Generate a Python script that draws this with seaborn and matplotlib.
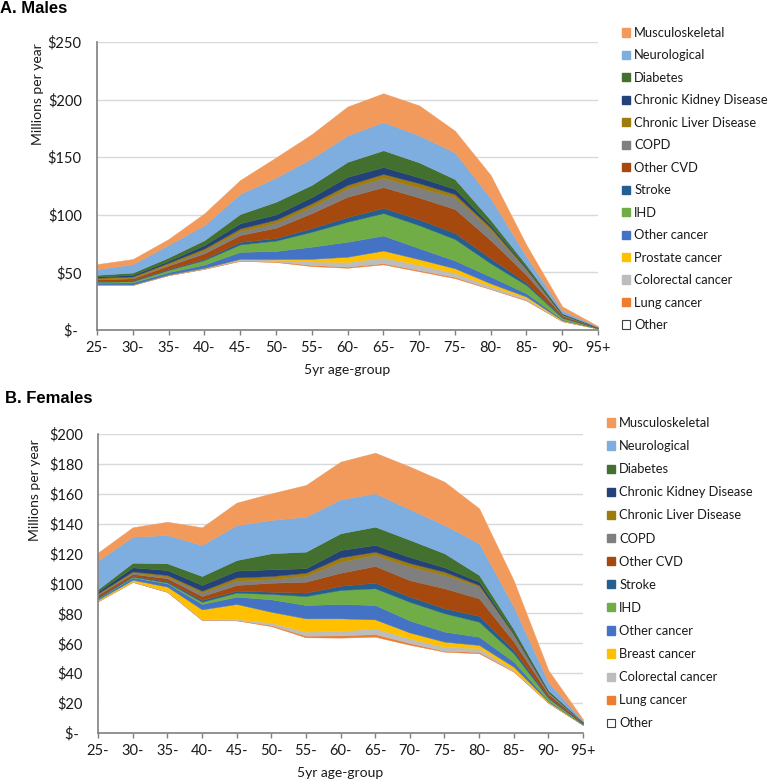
import numpy as np
import matplotlib
matplotlib.use('Agg')
import matplotlib.pyplot as plt
from matplotlib.patches import Patch
import seaborn as sns

sns.set_theme(style='white')
plt.rcParams['font.family'] = ['Lato', 'DejaVu Sans']

# 年龄组
ages = ['25-', '30-', '35-', '40-', '45-', '50-', '55-', '60-', '65-',
        '70-', '75-', '80-', '85-', '90-', '95+']

# 男性 (百万/年), 从下往上堆叠
male_other = [39, 39, 47.5, 53, 60, 59, 55.5, 54, 57, 51, 45, 35.5, 25.5, 7.5, 1.2]
male_lung = [0.3, 0.3, 0.3, 0.4, 0.4, 0.6, 1, 1, 1, 1, 1, 0.5, 0.5, 0.2, 0.05]
male_colorectal = [0.3, 0.3, 0.4, 0.6, 1.2, 1.5, 3, 4, 5, 4.5, 3.6, 2, 1.5, 0.3, 0.05]
male_prostate = [0, 0, 0, 0, 0.2, 0.5, 2.3, 4.6, 6, 5, 4, 2.5, 1.5, 0.5, 0.1]
male_other_cancer = [1.5, 1.8, 2, 2.8, 6, 7, 10.5, 13, 13, 9.5, 6.7, 5.8, 2.8, 0.7, 0.1]
male_ihd = [0.8, 1, 2, 4, 6.5, 9, 13, 17.4, 19.5, 20, 18.7, 11.6, 7.2, 1.5, 0.3]
male_stroke = [0.6, 0.7, 0.8, 1, 2.2, 2.2, 3.2, 4, 4.5, 5, 5.3, 4.3, 2, 0.5, 0.1]
male_other_cvd = [1.5, 1.7, 3, 4.8, 6, 9, 13, 17.7, 18, 19, 20.7, 15.8, 6.7, 1.3, 0.25]
male_copd = [0.4, 0.5, 1, 2.2, 3.2, 4, 5.5, 7.3, 8, 8.5, 10.3, 8.8, 4.3, 1, 0.15]
male_liver = [1, 1.2, 1.5, 2, 2.5, 3, 3, 3, 3.5, 4, 2.7, 2.2, 1, 0.1, 0]
male_ckd = [1, 1.3, 1.5, 3, 4.5, 4.5, 5.5, 7, 6, 5, 4.5, 2, 1, 0.3, 0.05]
male_diabetes = [1.5, 2, 3, 4.2, 8, 11, 10.5, 13, 14.5, 13, 8.5, 4.5, 2.4, 0.6, 0.1]
male_neuro = [5, 7.3, 11, 13, 17.5, 21, 23, 23, 24.5, 23.5, 23, 18.8, 7.2, 2.5, 0.4]
male_musculo = [4.3, 4.5, 5, 10.3, 12, 17.5, 21, 25, 25, 26, 19, 20.2, 10.2, 3.5, 0.5]

# 女性
fem_other = [88, 101, 94.3, 75.5, 75.3, 71.5, 64, 63.8, 64.4, 59, 54.4, 53.3, 41, 20, 5.3]
fem_lung = [0.2, 0.2, 0.2, 0.3, 0.3, 0.7, 1.1, 1.5, 1.8, 1.2, 0.6, 0.9, 0.4, 0.2, 0.05]
fem_colorectal = [0.3, 0.3, 0.4, 0.4, 0.7, 1.6, 2.7, 3.1, 3.8, 3, 2.7, 2.5, 0.7, 0.3, 0.1]
fem_breast = [0.7, 1, 3, 6.5, 10, 7.3, 8.9, 8.3, 6, 4, 3.4, 2.2, 2.2, 0.5, 0.1]
fem_other_cancer = [1, 1.6, 2.2, 3.6, 4.9, 8.3, 8.9, 9.6, 9.6, 8, 6.7, 5.5, 3.4, 0.8, 0.2]
fem_ihd = [0.3, 0.5, 0.6, 1.5, 2.7, 3.6, 6, 9.4, 11.2, 12.5, 12.3, 10, 5.6, 1.5, 0.4]
fem_stroke = [0.5, 0.6, 0.7, 1.2, 1.3, 1.5, 2.3, 2.8, 3.7, 3.5, 3.3, 3.9, 2.2, 0.7, 0.2]
fem_other_cvd = [1.5, 1.2, 2.1, 2.6, 3.8, 6, 7.3, 8.7, 11.2, 11, 13.4, 11.8, 5.6, 2, 0.4]
fem_copd = [0.5, 0.7, 1, 2.3, 2.9, 2.3, 3.8, 7.4, 7.3, 9, 8.9, 7.8, 4.5, 1.5, 0.3]
fem_liver = [0.5, 1, 1.2, 1.3, 2.2, 2.2, 2.2, 2.9, 2.3, 2.5, 2.2, 1.1, 0.6, 0.1, 0]
fem_ckd = [1.2, 2.7, 3.3, 3.8, 4.5, 4.5, 3, 4.9, 4.5, 4, 2.9, 2.2, 0.9, 0.3, 0.1]
fem_diabetes = [1.5, 3.1, 4.5, 6, 7.1, 10.7, 11.1, 11.2, 12.2, 11.5, 9.4, 4.5, 2.3, 0.6, 0.2]
fem_neuro = [19, 17.4, 18.9, 20.8, 23.4, 22.3, 23.4, 22.7, 22.3, 20.5, 18.9, 21.2, 15.1, 5.5, 0.8]
fem_musculo = [5.5, 6.3, 8.9, 11.8, 15, 17.8, 21.2, 25.2, 27.2, 28.5, 29, 23.4, 17.5, 8, 1.0]

male_labels = ['Other', 'Lung cancer', 'Colorectal cancer', 'Prostate cancer', 'Other cancer',
               'IHD', 'Stroke', 'Other CVD', 'COPD', 'Chronic Liver Disease',
               'Chronic Kidney Disease', 'Diabetes', 'Neurological', 'Musculoskeletal']
fem_labels = ['Other', 'Lung cancer', 'Colorectal cancer', 'Breast cancer', 'Other cancer',
              'IHD', 'Stroke', 'Other CVD', 'COPD', 'Chronic Liver Disease',
              'Chronic Kidney Disease', 'Diabetes', 'Neurological', 'Musculoskeletal']

colors = ['#FFFFFF', '#ED7D31', '#BDBDBD', '#FFC000', '#4472C4', '#70AD47', '#255E91',
          '#A5490F', '#7F7F7F', '#9E7B0F', '#24427A', '#43702F', '#7DAEDF', '#F19A5C']

male_series = [male_other, male_lung, male_colorectal, male_prostate, male_other_cancer,
               male_ihd, male_stroke, male_other_cvd, male_copd, male_liver, male_ckd,
               male_diabetes, male_neuro, male_musculo]
fem_series = [fem_other, fem_lung, fem_colorectal, fem_breast, fem_other_cancer,
              fem_ihd, fem_stroke, fem_other_cvd, fem_copd, fem_liver, fem_ckd,
              fem_diabetes, fem_neuro, fem_musculo]

TXT = '#1a1a1a'
AXC = '#7F7F7F'
W, H = 768, 782


def draw_panel(ax, series, ymax, ystep, ylab_pos, xlab_y):
    x = np.arange(len(ages))
    ax.stackplot(x, *series, colors=colors, edgecolor='face', linewidth=0.3)
    ax.set_xlim(0, len(ages) - 1)
    ax.set_ylim(0, ymax)
    ticks = np.arange(0, ymax + 1, ystep)
    ax.set_yticks(ticks)
    ax.set_yticklabels(['$- ' if t == 0 else f'${t}' for t in ticks])
    ax.set_xticks(x)
    ax.set_xticklabels(ages)
    ax.yaxis.grid(True, color='#D9D9D9', linewidth=1)
    ax.xaxis.grid(False)
    ax.set_axisbelow(True)
    for s in ['top', 'right']:
        ax.spines[s].set_visible(False)
    for s in ['left', 'bottom']:
        ax.spines[s].set_color(AXC)
        ax.spines[s].set_linewidth(1.2)
    ax.tick_params(axis='y', length=0, pad=11, labelsize=10.5, labelcolor=TXT)
    ax.tick_params(axis='x', bottom=True, length=3.6, width=1, color=AXC, pad=4,
                   labelsize=10.5, labelcolor=TXT)
    ax.set_ylabel('Millions per year', fontsize=10, color=TXT)
    ax.yaxis.set_label_coords(*ylab_pos)
    ax.set_xlabel('5yr age-group', fontsize=10, color=TXT, va='top')
    ax.xaxis.set_label_coords(0.5, xlab_y)


def make_legend(fig, labels, x, y, spacing):
    handles = []
    for lab, c in zip(labels, colors):
        if lab == 'Other':
            handles.append(Patch(facecolor='white', edgecolor='#404040', linewidth=0.8))
        else:
            handles.append(Patch(facecolor=c, edgecolor=c))
    leg = fig.legend(handles[::-1], labels[::-1], loc='upper left',
                     bbox_to_anchor=(x, y), bbox_transform=fig.transFigure,
                     frameon=False, borderpad=0, borderaxespad=0,
                     handlelength=0.6, handleheight=0.6, handletextpad=0.35,
                     labelspacing=spacing, fontsize=9.3)
    for t in leg.get_texts():
        t.set_color(TXT)


fig = plt.figure(figsize=(W / 100, H / 100), dpi=100)
ax1 = fig.add_axes([97 / W, 1 - 330 / H, 501 / W, 288 / H])
ax2 = fig.add_axes([98 / W, 1 - 733 / H, 485 / W, 299 / H])

draw_panel(ax1, male_series, 250, 50, (-0.106, 0.82), -0.118)
draw_panel(ax2, fem_series, 200, 20, (-0.1175, 0.813), -0.114)

make_legend(fig, male_labels, 622 / W, 1 - 27 / H, 0.81)
make_legend(fig, fem_labels, 607 / W, 1 - 417 / H, 0.86)

fig.text(0.0, 1 - 1 / H, 'A. Males', ha='left', va='top', fontsize=12,
         fontweight='bold', family=['Liberation Sans', 'DejaVu Sans'], color='black')
fig.text(5 / W, 1 - 391 / H, 'B. Females', ha='left', va='top', fontsize=12,
         fontweight='bold', family=['Liberation Sans', 'DejaVu Sans'], color='black')

fig.savefig('out.png', dpi=100)
plt.close(fig)
